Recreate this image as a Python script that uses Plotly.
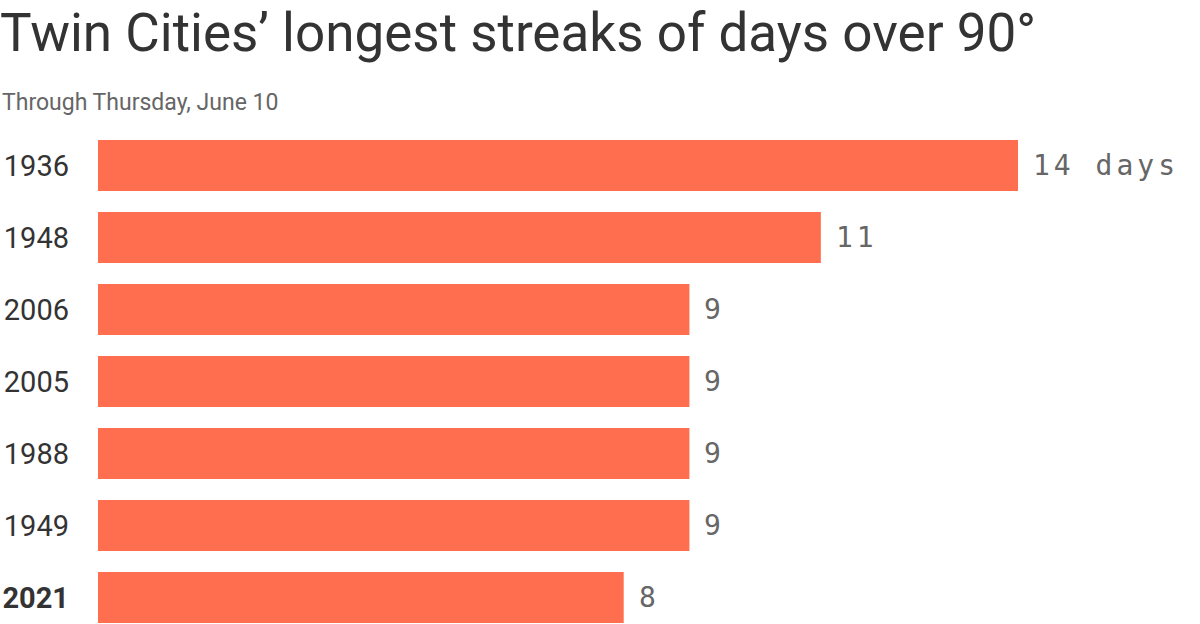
import plotly.graph_objects as go

# streak lengths (days over 90 degrees), longest first
years = ["1936", "1948", "2006", "2005", "1988", "1949", "2021"]
days = [14, 11, 9, 9, 9, 9, 8]
value_labels = ["14 days", "11", "9", "9", "9", "9", "8"]
tick_labels = ["1936", "1948", "2006", "2005", "1988", "1949", "<b>2021</b>"]

BAR = "#ff6f4f"
DARK = "#333333"
GRAY = "#666666"

fig = go.Figure()

fig.add_trace(go.Bar(
    x=days,
    y=years,
    orientation="h",
    marker=dict(color=BAR, line=dict(width=0)),
    width=0.708,
    hoverinfo="skip",
))

# value labels to the right of each bar (y given as category index)
for i, (d, lab) in enumerate(zip(days, value_labels)):
    fig.add_annotation(
        x=d, y=i, xref="x", yref="y",
        text='<span style="letter-spacing:4px">' + lab + "</span>",
        showarrow=False, xanchor="left", yanchor="middle", xshift=13,
        font=dict(family="DejaVu Sans Mono", size=28, color=GRAY),
    )

# subtitle
fig.add_annotation(
    x=-98 / 1102, y=(624 - 102.5) / 494, xref="paper", yref="paper",
    text="Through Thursday, June 10", showarrow=False,
    xanchor="left", yanchor="middle",
    font=dict(family="Roboto", size=23, color=GRAY),
)

fig.update_layout(
    width=1200, height=624,
    margin=dict(l=98, r=0, t=130, b=0),
    paper_bgcolor="white", plot_bgcolor="white",
    showlegend=False,
    font=dict(family="Roboto", color=DARK),
    title=dict(
        text="Twin Cities’ longest streaks of days over 90°",
        x=0.0, xref="container", xanchor="left",
        y=1 - 32 / 624, yref="container", yanchor="middle",
        font=dict(family="Roboto", size=53, color=DARK),
    ),
    xaxis=dict(range=[0, 14 * 1102 / 920], visible=False, fixedrange=True),
    yaxis=dict(
        type="category", categoryorder="array", categoryarray=years,
        range=[(624 - 165.5) / 72, (130 - 165.5) / 72],
        tickvals=years, ticktext=tick_labels,
        ticks="", showline=False, showgrid=False, zeroline=False,
        ticklabelstandoff=28,
        tickfont=dict(family="Roboto", size=29, color=DARK),
        fixedrange=True,
    ),
)

# page has a default body margin; drop it so the chart sits at 0,0
fig.write_html("out.html", config={"displayModeBar": False},
               post_script="document.body.style.margin='0';")
